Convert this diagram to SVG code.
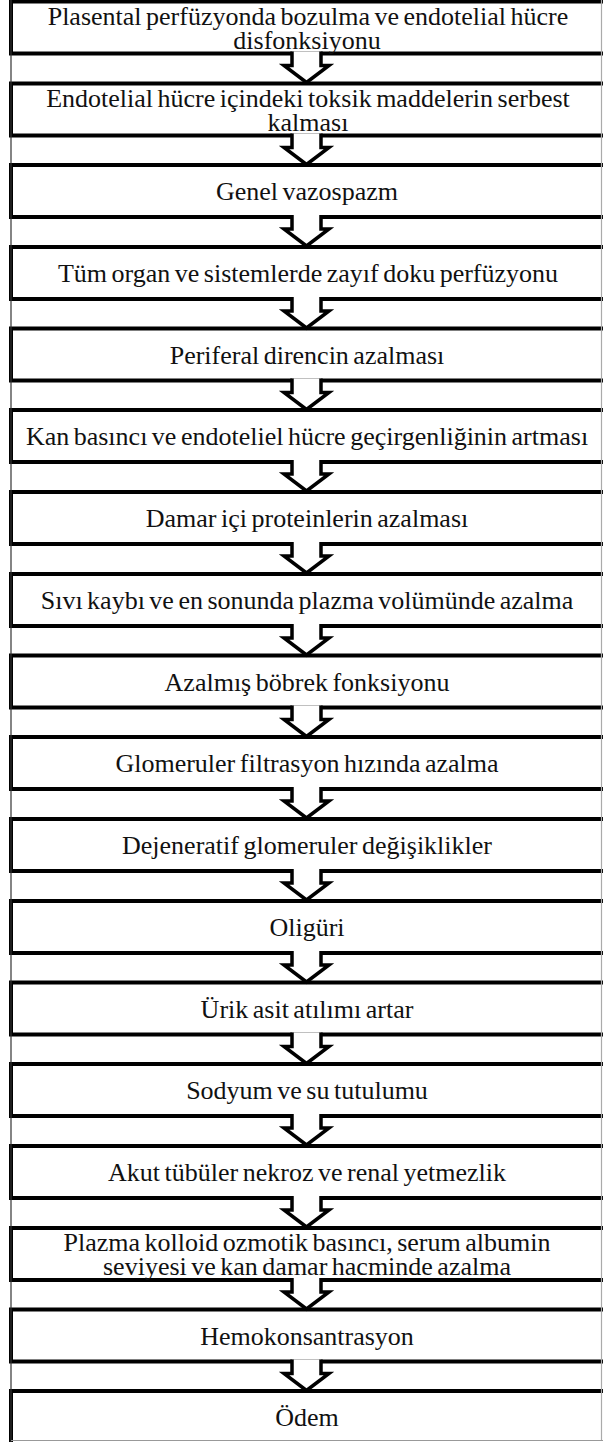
<svg xmlns="http://www.w3.org/2000/svg" width="603" height="1442" viewBox="0 0 603 1442">
<style>
.b{fill:#fff;stroke:#000;stroke-width:4}
.t{font-family:"Liberation Serif","Times New Roman",serif;font-size:26px;word-spacing:-2px;fill:#111;text-anchor:middle}
.a{fill:#fff;stroke:#000;stroke-width:3.5;stroke-linejoin:miter}
.f{stroke-width:1.2;fill:none}
</style>
<defs>
<path id="arr" class="a" d="M292,-2 V12 H284 L306.5,29 L329,12 H321 V-2"/>
</defs>
<g id="nodes">
<g id="n1"><rect class="b" x="11" y="1.5" width="610" height="52"/><text class="t" x="308" y="24.5">Plasental perfüzyonda bozulma ve endotelial hücre</text><text class="t" x="307" y="49">disfonksiyonu</text></g>
<g id="n2"><rect class="b" x="11" y="83.5" width="610" height="52"/><text class="t" x="308" y="106.5">Endotelial hücre içindeki toksik maddelerin serbest</text><text class="t" x="308" y="131">kalması</text></g>
<g id="n3"><rect class="b" x="11" y="165" width="610" height="52"/><text class="t" x="307" y="200">Genel vazospazm</text></g>
<g id="n4"><rect class="b" x="11" y="247" width="610" height="52"/><text class="t" x="308" y="282">Tüm organ ve sistemlerde zayıf doku perfüzyonu</text></g>
<g id="n5"><rect class="b" x="11" y="328.5" width="610" height="52"/><text class="t" x="307" y="363.5">Periferal direncin azalması</text></g>
<g id="n6"><rect class="b" x="11" y="410" width="610" height="52"/><text class="t" x="307" y="445">Kan basıncı ve endoteliel hücre geçirgenliğinin artması</text></g>
<g id="n7"><rect class="b" x="11" y="492" width="610" height="52"/><text class="t" x="307" y="527">Damar içi proteinlerin azalması</text></g>
<g id="n8"><rect class="b" x="11" y="574" width="610" height="52"/><text class="t" x="307" y="609">Sıvı kaybı ve en sonunda plazma volümünde azalma</text></g>
<g id="n9"><rect class="b" x="11" y="655.5" width="610" height="52"/><text class="t" x="307" y="690.5">Azalmış böbrek fonksiyonu</text></g>
<g id="n10"><rect class="b" x="11" y="737" width="610" height="52"/><text class="t" x="307" y="772">Glomeruler filtrasyon hızında azalma</text></g>
<g id="n11"><rect class="b" x="11" y="819" width="610" height="52"/><text class="t" x="307" y="854">Dejeneratif glomeruler değişiklikler</text></g>
<g id="n12"><rect class="b" x="11" y="901" width="610" height="52"/><text class="t" x="307" y="936">Oligüri</text></g>
<g id="n13"><rect class="b" x="11" y="982.5" width="610" height="52"/><text class="t" x="307" y="1017.5">Ürik asit atılımı artar</text></g>
<g id="n14"><rect class="b" x="11" y="1064" width="610" height="52"/><text class="t" x="307" y="1099">Sodyum ve su tutulumu</text></g>
<g id="n15"><rect class="b" x="11" y="1146" width="610" height="52"/><text class="t" x="307" y="1181">Akut tübüler nekroz ve renal yetmezlik</text></g>
<g id="n16"><rect class="b" x="11" y="1228" width="610" height="52"/><text class="t" x="307" y="1250.5">Plazma kolloid ozmotik basıncı, serum albumin</text><text class="t" x="307" y="1275">seviyesi ve kan damar hacminde azalma</text></g>
<g id="n17"><rect class="b" x="11" y="1309.5" width="610" height="52"/><text class="t" x="307" y="1344.5">Hemokonsantrasyon</text></g>
<g id="n18"><rect class="b" x="11" y="1391" width="610" height="70"/><text class="t" x="307" y="1426">Ödem</text></g>
</g>
<g id="connectors">
<use href="#arr" transform="translate(0,53.5)"/>
<use href="#arr" transform="translate(0,135.5)"/>
<use href="#arr" transform="translate(0,217)"/>
<use href="#arr" transform="translate(0,299)"/>
<use href="#arr" transform="translate(0,380.5)"/>
<use href="#arr" transform="translate(0,462)"/>
<use href="#arr" transform="translate(0,544)"/>
<use href="#arr" transform="translate(0,626)"/>
<use href="#arr" transform="translate(0,707.5)"/>
<use href="#arr" transform="translate(0,789)"/>
<use href="#arr" transform="translate(0,871)"/>
<use href="#arr" transform="translate(0,953)"/>
<use href="#arr" transform="translate(0,1034.5)"/>
<use href="#arr" transform="translate(0,1116)"/>
<use href="#arr" transform="translate(0,1198)"/>
<use href="#arr" transform="translate(0,1280)"/>
<use href="#arr" transform="translate(0,1361.5)"/>
</g>
<g id="frame">
<line class="f" x1="11" y1="0" x2="11" y2="1442" stroke="#333"/>
<line class="f" x1="601.5" y1="0" x2="601.5" y2="1441" stroke="#aaa"/>
<line class="f" x1="11" y1="1440.5" x2="603" y2="1440.5" stroke="#999"/>
</g>
</svg>
